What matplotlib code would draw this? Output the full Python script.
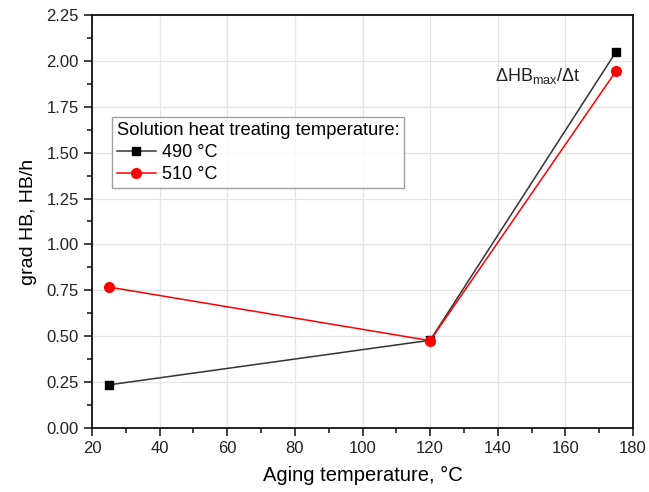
import matplotlib.pyplot as plt
from matplotlib.ticker import MultipleLocator

plt.rcParams['font.family'] = ['Liberation Sans', 'DejaVu Sans']

# temperatura de envejecimiento
temp_env = [25, 120, 175]
grad_490 = [0.235, 0.478, 2.05]
grad_510 = [0.768, 0.476, 1.945]
etiquetas = ["490 °C", "510 °C"]

fig = plt.figure(figsize=(6.49, 4.92), dpi=100)
ax = fig.add_axes([92/649, 64/492, 541/649, 413/492])

ax.plot(temp_env, grad_490, color='#333333', lw=1.1, marker='s', ms=6,
        mfc='black', mec='black', label=etiquetas[0], zorder=3)
ax.plot(temp_env, grad_510, color='red', lw=1.1, marker='o', ms=7,
        mfc='red', mec='red', label=etiquetas[1], zorder=4)

ax.set_xlim(20, 180)
ax.set_ylim(0, 2.25)
ax.xaxis.set_major_locator(MultipleLocator(20))
ax.xaxis.set_minor_locator(MultipleLocator(10))
ax.yaxis.set_major_locator(MultipleLocator(0.25))
ax.yaxis.set_minor_locator(MultipleLocator(0.125))
ax.yaxis.set_major_formatter(plt.FuncFormatter(lambda v, p: f"{v:.2f}"))
ax.grid(True, which='major', color='#e4e4e4', lw=0.9)
ax.set_axisbelow(True)
ax.tick_params(which='both', direction='out', top=False, right=False,
               labelsize=12, colors='#222222', width=1.2)
ax.tick_params(which='major', length=6)
ax.tick_params(which='minor', length=3.5)
for s in ax.spines.values():
    s.set_linewidth(1.3)
    s.set_color('#111111')

ax.set_xlabel("Aging temperature, °C", fontsize=14.5, labelpad=7)
ax.set_ylabel("grad HB, HB/h", fontsize=14, labelpad=7)

ax.text(151.8, 1.92, r"$\mathregular{\Delta HB_{max}/\Delta t}$", fontsize=13,
        ha='center', va='center', color='#222222')

leg = ax.legend(title="Solution heat treating temperature:", loc='upper left',
                bbox_to_anchor=(0.037, 0.753), fontsize=13, title_fontsize=13.2,
                frameon=True, fancybox=False, edgecolor='#888888',
                borderpad=0.25, labelspacing=0.3, handlelength=2.2,
                handletextpad=0.3, borderaxespad=0)
leg._legend_box.align = 'left'
leg._legend_box.sep = 4
leg.get_frame().set_linewidth(1.0)

fig.savefig("out.png", dpi=100)
